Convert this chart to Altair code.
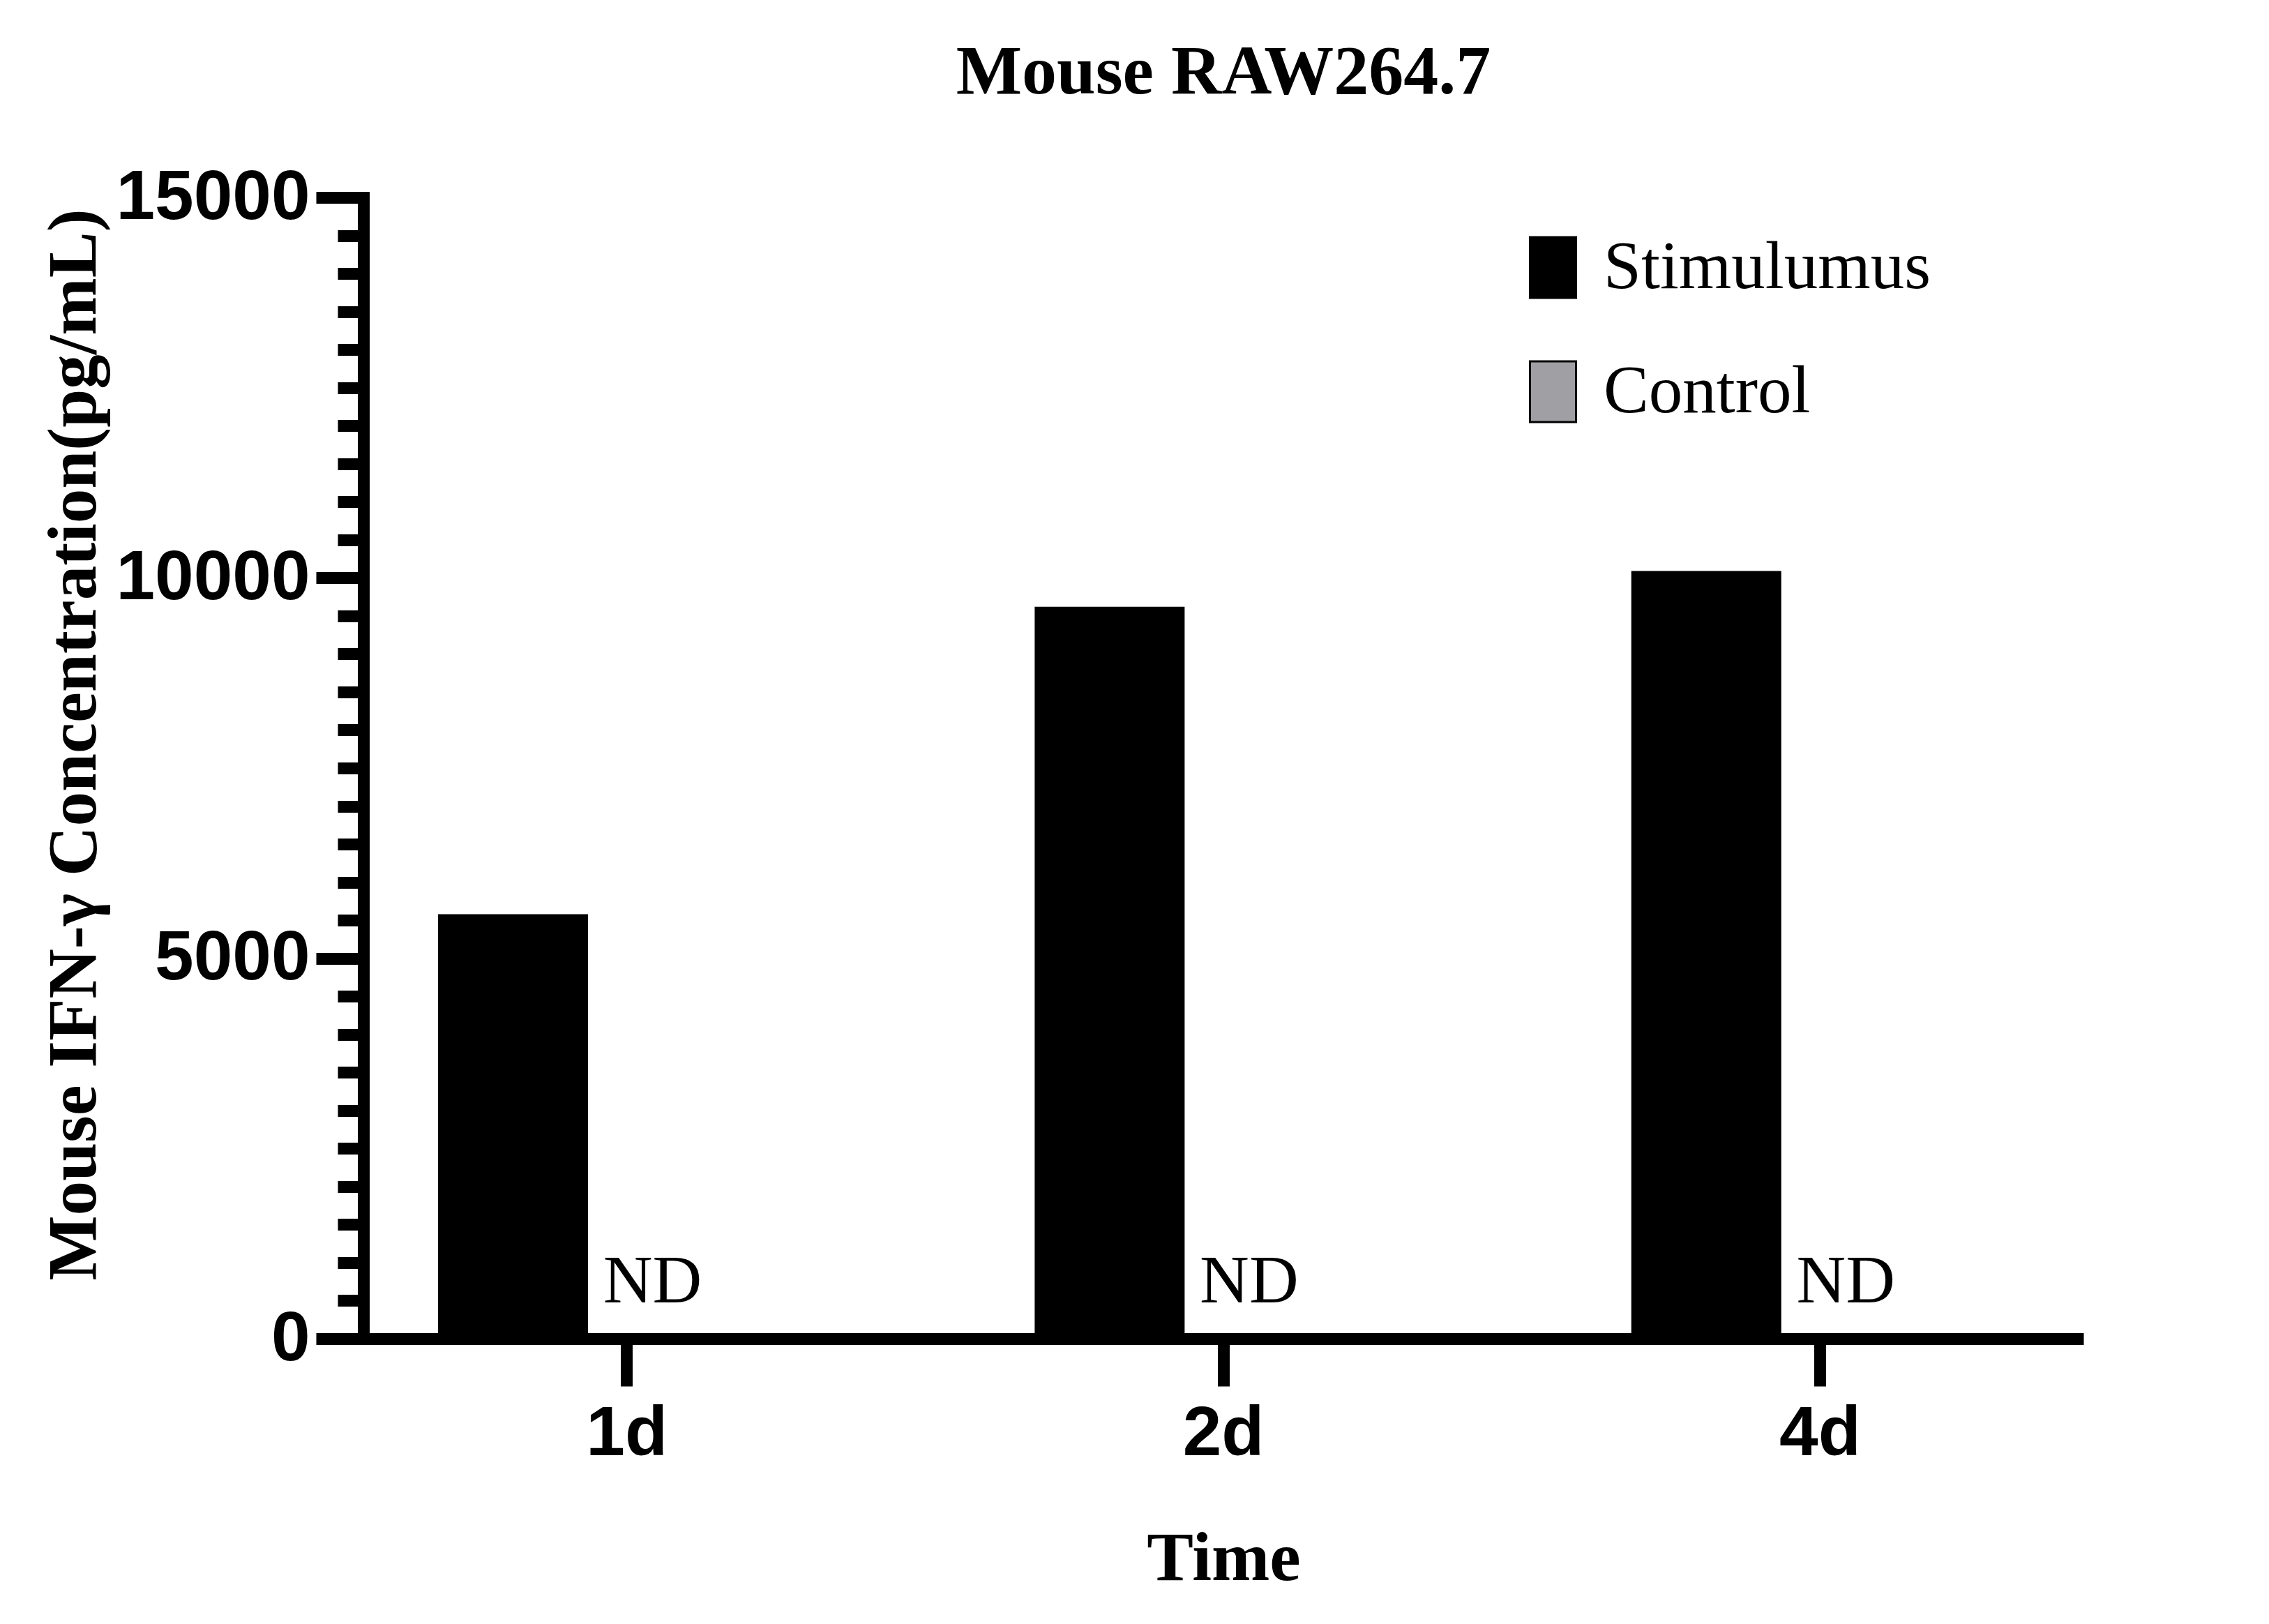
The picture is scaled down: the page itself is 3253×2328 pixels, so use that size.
import altair as alt
import pandas as pd

# ---- data ----
times = ["1d", "2d", "4d"]
groups = ["Stimulumus", "Control"]
stim_values = [5580, 9620, 10090]
control_values = [0, 0, 0]          # not detected
control_labels = ["ND", "ND", "ND"]

rows = []
for t, s, c, lab in zip(times, stim_values, control_values, control_labels):
    rows.append({"Time": t, "Group": groups[0], "Value": s, "Label": ""})
    rows.append({"Time": t, "Group": groups[1], "Value": c, "Label": lab})
df = pd.DataFrame(rows)

W, H = 2466, 1636
SERIF = "Liberation Serif"
SANS = "Liberation Sans"

x_enc = alt.X(
    "Time:N", sort=times,
    scale=alt.Scale(paddingInner=0.117, paddingOuter=0),
    axis=alt.Axis(
        title="Time", titleFont=SERIF, titleFontSize=100, titleFontWeight="bold",
        titleColor="black", titleBaseline="alphabetic", titleY=345, titleX=W / 2,
        titleAlign="center",
        labelFont=SANS, labelFontSize=100, labelFontWeight="bold", labelColor="black",
        labelAngle=0, labelPadding=19, labelLimit=1000,
        domainColor="black", domainWidth=17, domainCap="butt",
        tickColor="black", tickWidth=17, tickSize=68, tickCap="butt",
        grid=False,
    ),
)
xoff_enc = alt.XOffset(
    "Group:N", sort=groups,
    scale=alt.Scale(domain=groups, paddingInner=0, paddingOuter=0.7565, align=0.329),
)
y_enc = alt.Y(
    "Value:Q",
    scale=alt.Scale(domain=[0, 15000], nice=False, zero=True),
    axis=alt.Axis(
        title="Mouse IFN-\u03b3 Concentration(pg/mL)",
        titleFont=SERIF, titleFontSize=99, titleFontWeight="bold", titleColor="black",
        titleAngle=270, titleBaseline="alphabetic", titleAlign="center",
        titleX=-385, titleY=784, titleLimit=3000,
        values=list(range(0, 15001, 500)),
        format="d",
        labelExpr="datum.value % 5000 === 0 ? datum.label : ''",
        labelFont=SANS, labelFontSize=100, labelFontWeight="bold", labelColor="black",
        labelPadding=9, labelLimit=1000, labelFlush=False, labelOverlap=False,
        domainColor="black", domainWidth=17, domainCap="square",
        tickColor="black", tickWidth=17, tickCap="butt",
        tickSize={"condition": {"test": "datum.value % 5000 === 0", "value": 68}, "value": 37},
        grid=False,
    ),
)

base = alt.Chart(df).encode(x=x_enc, xOffset=xoff_enc, y=y_enc)

bars = base.mark_bar(strokeWidth=0).encode(
    color=alt.Color(
        "Group:N", sort=groups,
        scale=alt.Scale(domain=groups, range=["#000000", "#A0A0A4"]),
        legend=alt.Legend(
            orient="none", legendX=1657, legendY=52, title=None, padding=0,
            symbolType="M-0.759,-1H0.759V1H-0.759Z", symbolSize=7569,
            symbolStrokeColor="black", symbolStrokeWidth=3, symbolOpacity=1,
            labelFont=SERIF, labelFontSize=97, labelColor="black",
            labelOffset=24, labelLimit=1000, rowPadding=79,
        ),
    )
)

nd_text = base.mark_text(
    font=SERIF, fontSize=98, color="black", align="center",
    baseline="alphabetic", dx=-15, dy=-52,
).encode(text="Label:N").transform_filter("datum.Label != ''")

chart = (
    alt.layer(bars, nd_text)
    .properties(
        width=W, height=H,
        title=alt.TitleParams(
            text="Mouse RAW264.7", font=SERIF, fontSize=100, fontWeight="bold",
            color="black", anchor="middle", frame="group", baseline="alphabetic",
            offset=-1,
        ),
        autosize=alt.AutoSizeParams(type="none"),
        padding={"left": 513, "top": 275, "right": 200, "bottom": 400},
        background="white",
    )
    .configure_view(stroke=None)
)

chart.save("out.html", embed_options={"renderer": "svg", "actions": False})
